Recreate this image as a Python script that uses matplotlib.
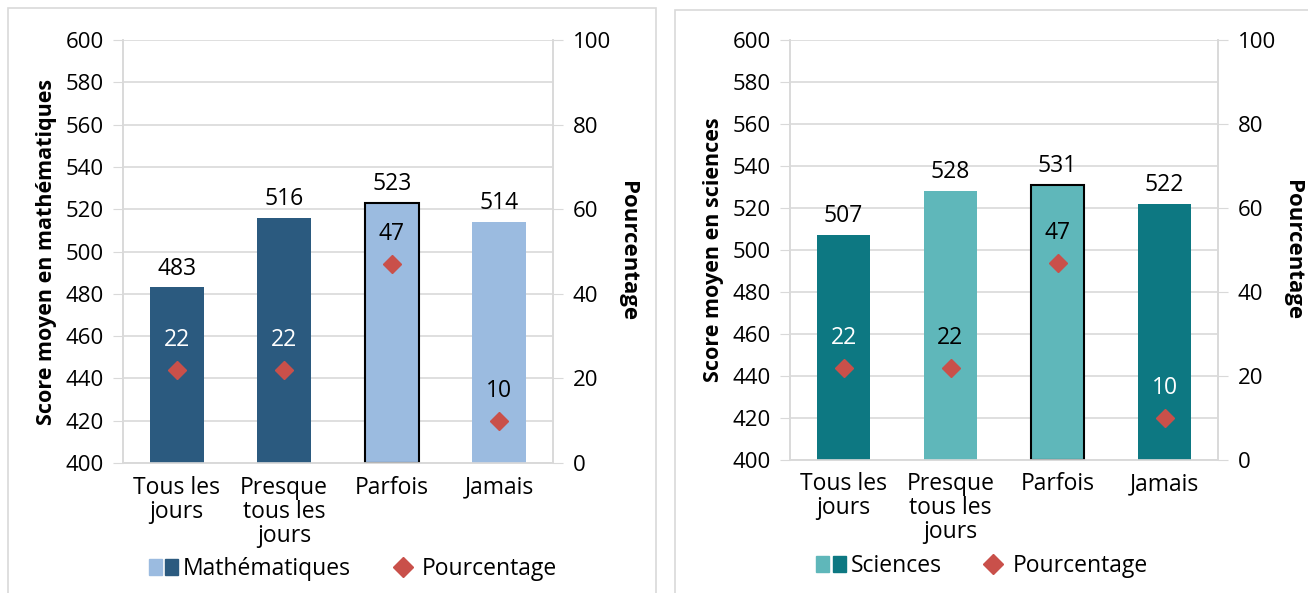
import matplotlib
matplotlib.use("Agg")
import matplotlib.pyplot as plt
from matplotlib.patches import Rectangle, Patch
from matplotlib.lines import Line2D
from matplotlib.legend_handler import HandlerTuple

plt.rcParams['font.family'] = ['Open Sans', 'DejaVu Sans']

categories = ["Tous les\njours", "Presque\ntous les\njours", "Parfois", "Jamais"]
math_scores = [483, 516, 523, 514]
sci_scores = [507, 528, 531, 522]
math_pct = [22, 22, 47, 10]
sci_pct = [22, 22, 47, 10]

math_colors = ["#2B5A7F", "#2B5A7F", "#9BBBE0", "#9BBBE0"]
math_pct_text = ["white", "white", "black", "black"]
sci_colors = ["#0D7882", "#5FB7BA", "#5FB7BA", "#0D7882"]
sci_pct_text = ["white", "black", "black", "white"]
edge = [None, None, "black", None]
diamond_color = "#C9504A"
grid_color = "#D9D9D9"

W, H = 1308, 593
fig = plt.figure(figsize=(13.08, 5.93), dpi=100)

# panel frames
for (x0, y0, x1, y1) in [(8, 8, 656, 600), (675, 10, 1315, 600)]:
    fig.patches.append(Rectangle((x0 / W, 1 - y1 / H), (x1 - x0) / W, (y1 - y0) / H,
                                 transform=fig.transFigure, fill=False,
                                 edgecolor=grid_color, linewidth=1.2))


def panel(rect, scores, pct, colors, pct_text, ylabel, legend_name, legend_colors, legend_center):
    ax = fig.add_axes(rect)
    x = range(len(categories))
    for i in x:
        ec = edge[i]
        ax.bar(i, scores[i] - 400, bottom=400, width=0.5, color=colors[i],
               edgecolor=ec if ec else colors[i], linewidth=1.5 if ec else 0, zorder=3)
        ax.annotate(str(scores[i]), (i, scores[i]), xytext=(0, 5), textcoords="offset points",
                    ha="center", va="bottom", fontsize=16.5, color="black", zorder=5)
    ax.set_ylim(400, 600)
    ax.set_xlim(-0.5, 3.5)
    ax.set_yticks(range(400, 601, 20))
    ax.set_xticks(list(x))
    ax.set_xticklabels(categories, fontsize=16.5, linespacing=1.0)
    ax.tick_params(axis="x", length=0, pad=9)
    ax.tick_params(axis="y", length=7, color=grid_color, labelsize=16, pad=7)
    for s in ["top"]:
        ax.spines[s].set_visible(False)
    for s in ["left", "right", "bottom"]:
        ax.spines[s].set_color(grid_color)
        ax.spines[s].set_linewidth(1.2)
    ax.grid(axis="y", color=grid_color, linewidth=1.2, zorder=0)
    ax.set_ylabel(ylabel, fontsize=15.5, fontweight="bold", labelpad=6)

    ax2 = ax.twinx()
    ax2.set_ylim(0, 100)
    ax2.set_yticks(range(0, 101, 20))
    ax2.tick_params(axis="y", length=7, color=grid_color, labelsize=16, pad=7)
    for s in ["top"]:
        ax2.spines[s].set_visible(False)
    for s in ["left", "right", "bottom"]:
        ax2.spines[s].set_color(grid_color)
        ax2.spines[s].set_linewidth(1.2)
    ax2.plot(list(x), pct, linestyle="none", marker="D", markersize=9,
             color=diamond_color, zorder=4)
    for i in x:
        ax2.annotate(str(pct[i]), (i, pct[i]), xytext=(0, 13), textcoords="offset points",
                     ha="center", va="bottom", fontsize=16.5, color=pct_text[i])
    ax2.set_ylabel("Pourcentage", fontsize=16, fontweight="bold", rotation=-90, labelpad=20)

    handles = [(Patch(color=legend_colors[0]), Patch(color=legend_colors[1])),
               Line2D([], [], linestyle="none", marker="D", markersize=10, color=diamond_color)]
    fig.legend(handles, [legend_name, "Pourcentage"],
               handler_map={tuple: HandlerTuple(ndivide=None, pad=0.15)},
               loc="center", bbox_to_anchor=legend_center, ncol=2, frameon=False,
               fontsize=16.5, handlelength=1.3, handletextpad=0.2, columnspacing=1.6)
    return ax


panel([123 / W, 1 - 463 / H, (553 - 123) / W, (463 - 40) / H], math_scores, math_pct,
      math_colors, math_pct_text, "Score moyen en mathématiques", "Mathématiques",
      ["#9BBBE0", "#2B5A7F"], (353 / W, 1 - 569 / H))
panel([790 / W, 1 - 460 / H, (1218 - 790) / W, (460 - 40) / H], sci_scores, sci_pct,
      sci_colors, sci_pct_text, "Score moyen en sciences", "Sciences",
      ["#5FB7BA", "#0D7882"], (982 / W, 1 - 566 / H))

fig.savefig("out.png", dpi=100)
